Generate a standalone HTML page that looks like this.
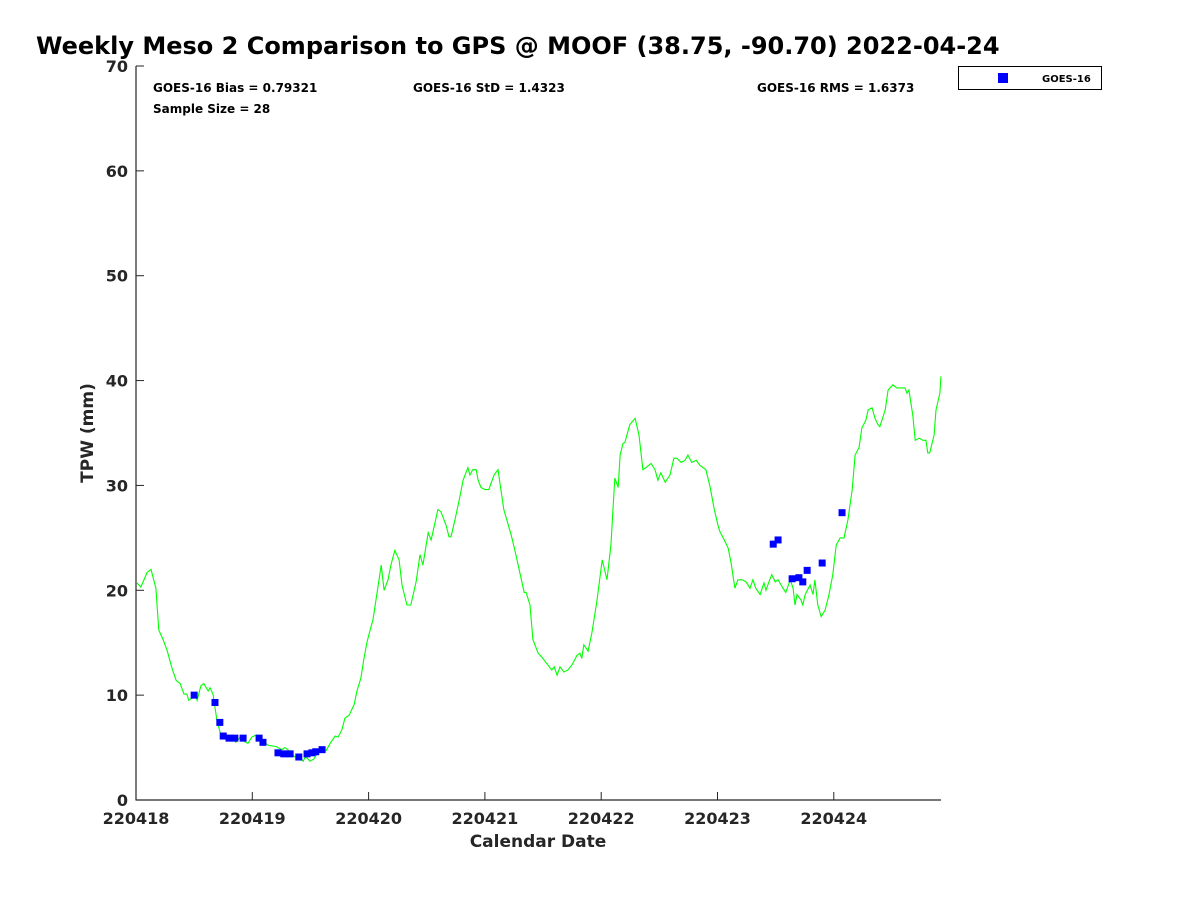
<!DOCTYPE html>
<html><head><meta charset="utf-8"><style>
body{margin:0;background:#fff;font-family:"DejaVu Sans","Liberation Sans",sans-serif}
</style></head><body>
<svg id="chart" width="1200" height="900" xmlns="http://www.w3.org/2000/svg">
<rect width="1200" height="900" fill="#fff"/>
<text x="36" y="54" font-size="24" font-weight="bold" fill="#000">Weekly Meso 2 Comparison to GPS @ MOOF (38.75, -90.70) 2022-04-24</text>
<g id="axes"></g>
<g id="series"></g>
<text x="153" y="92" font-size="12" font-weight="bold">GOES-16 Bias = 0.79321</text>
<text x="153" y="113" font-size="12" font-weight="bold">Sample Size = 28</text>
<text x="413" y="92" font-size="12" font-weight="bold">GOES-16 StD = 1.4323</text>
<text x="757" y="92" font-size="12" font-weight="bold">GOES-16 RMS = 1.6373</text>
<g>
<rect x="958.5" y="66.5" width="143" height="23" fill="#fff" stroke="#000" stroke-width="1"/>
<rect x="998" y="73" width="10" height="10" fill="#0000ff"/>
<text x="1042" y="82" font-size="10" font-weight="bold">GOES-16</text>
</g>
<text x="538" y="847" font-size="17" font-weight="bold" fill="#262626" text-anchor="middle">Calendar Date</text>
<text transform="translate(93,433) rotate(-90)" font-size="17" font-weight="bold" fill="#262626" text-anchor="middle">TPW (mm)</text>
</svg>
<script>
const xTickLabels=["220418","220419","220420","220421","220422","220423","220424"];
const yTicks=[0,10,20,30,40,50,60,70];
const gpsHours=[0.2,1.0,2.3,3.1,4.1,4.7,5.6,6.4,7.4,8.3,9.1,9.9,10.5,10.9,11.8,12.2,12.6,13.4,14.0,14.9,15.3,15.9,16.7,17.5,18.4,19.0,19.6,20.6,21.5,22.3,23.1,23.9,24.8,25.6,26.4,27.4,28.9,30.1,30.7,31.6,32.8,33.8,34.5,34.9,35.3,35.9,36.7,37.6,38.4,39.2,40.2,41.1,41.7,42.5,43.1,44.0,45.0,45.6,46.4,47.0,47.7,48.3,48.9,49.7,50.6,51.2,52.0,52.6,53.4,54.3,54.9,55.9,56.7,57.8,58.6,59.2,60.3,60.9,61.3,62.3,62.9,64.0,64.6,65.0,65.8,66.7,67.5,68.5,68.9,69.5,70.2,70.6,71.2,72.0,72.8,73.9,74.7,75.9,77.4,78.2,79.2,80.1,80.5,81.3,81.9,83.0,83.8,84.6,85.8,86.3,86.9,87.5,88.3,89.1,90.0,91.0,91.6,92.0,92.4,93.3,94.1,95.1,96.2,97.2,98.0,98.8,99.5,99.9,100.5,100.9,101.9,103.0,103.8,104.6,105.5,106.3,107.1,107.7,108.3,109.2,110.2,111.0,111.6,112.5,113.3,113.9,114.7,115.6,116.4,117.6,118.5,119.3,120.1,120.5,121.4,122.2,122.8,123.6,124.2,125.1,125.9,126.7,127.3,127.9,128.8,129.6,130.0,130.6,131.2,131.9,132.5,133.5,134.1,135.0,135.6,136.0,136.4,137.2,137.6,138.1,139.1,139.7,140.1,140.7,141.4,142.2,143.0,143.8,144.5,145.3,146.1,146.9,147.8,148.4,149.2,149.8,150.6,151.1,151.9,152.5,153.1,153.5,154.6,155.2,156.2,157.0,157.9,158.7,159.1,159.5,160.3,160.8,161.6,162.4,163.0,163.4,163.8,164.7,165.1,165.9,166.1];
const gpsValues=[20.7,20.3,21.7,22.0,20.2,16.2,15.3,14.3,12.6,11.4,11.1,10.1,10.1,9.5,9.8,10.1,9.5,10.9,11.1,10.4,10.7,10.1,7.6,6.2,6.0,6.2,6.0,5.5,6.0,5.6,5.4,6.0,6.2,5.6,5.5,5.2,5.1,4.8,5.0,4.7,4.1,4.0,3.7,4.1,4.0,3.7,3.9,4.6,5.0,4.7,5.5,6.1,6.0,6.7,7.8,8.1,9.1,10.4,11.6,13.4,15.1,16.2,17.2,19.6,22.4,20.0,21.0,22.4,23.8,22.9,20.5,18.6,18.6,20.8,23.4,22.4,25.5,24.8,25.6,27.7,27.5,26.2,25.1,25.1,26.7,28.6,30.5,31.7,31.0,31.5,31.5,30.5,29.8,29.6,29.6,31.0,31.5,27.7,25.3,23.8,21.7,19.8,19.8,18.6,15.3,14.0,13.6,13.1,12.4,12.7,11.9,12.7,12.2,12.4,12.9,13.8,14.0,13.5,14.8,14.2,16.0,18.9,22.9,21.0,24.3,30.7,29.8,32.9,34.0,34.1,35.8,36.4,34.8,31.5,31.8,32.1,31.5,30.5,31.2,30.3,31.0,32.6,32.6,32.2,32.4,32.9,32.2,32.4,31.9,31.5,29.8,27.8,26.2,25.6,24.8,24.0,22.6,20.2,21.0,21.0,20.8,20.2,21.0,20.2,19.6,20.7,20.0,20.8,21.5,20.8,21.0,20.2,19.8,21.0,20.2,18.6,19.6,19.1,18.6,19.6,20.5,19.6,21.0,18.6,17.5,18.1,19.6,21.5,24.3,25.0,25.0,26.7,29.6,32.9,33.6,35.5,36.2,37.2,37.4,36.4,35.8,35.6,37.2,39.1,39.6,39.3,39.3,39.3,38.8,39.1,36.7,34.3,34.5,34.3,34.3,33.1,33.1,34.8,37.2,38.8,40.4];
const goesHours=[12.0,16.3,17.3,18.0,19.2,20.4,22.1,25.4,26.2,29.3,30.5,31.8,33.6,35.3,36.3,37.1,38.4,131.5,132.5,135.4,136.8,137.6,138.5,141.6,145.7];
const goesValues=[10.0,9.3,7.4,6.1,5.9,5.9,5.9,5.9,5.5,4.5,4.4,4.4,4.1,4.4,4.5,4.6,4.8,24.4,24.8,21.1,21.2,20.8,21.9,22.6,27.4];

const NS="http://www.w3.org/2000/svg";
const L=136,R=941,T=66,B=800,YMAX=70,HMAX=166.1;
const pxPerDay=116.3;
function xs(h){return L+h/24*pxPerDay;}
function ys(v){return B-(v/YMAX)*(B-T);}
function mk(tag,attrs,parent){const e=document.createElementNS(NS,tag);for(const k in attrs)e.setAttribute(k,attrs[k]);parent.appendChild(e);return e;}
const axes=document.getElementById('axes'),series=document.getElementById('series');

let ax=mk('line',{x1:L,y1:T,x2:L,y2:B+0.5,stroke:'#262626','stroke-width':1.2},axes);


let bx=mk('line',{x1:L,y1:B,x2:R,y2:B,stroke:'#262626','stroke-width':1.2},axes);



yTicks.forEach(v=>{
  const y=ys(v);
  const tk=mk('line',{x1:L,y1:y,x2:L+8,y2:y,stroke:'#262626'},axes);
  
  
  const t=mk('text',{x:L-8,y:y+6,'font-size':16,'font-weight':'bold',fill:'#262626','text-anchor':'end'},axes);
  t.textContent=v;
  
  
});
xTickLabels.forEach((lab,i)=>{
  const x=xs(i*24);
  const tk=mk('line',{x1:x,y1:B,x2:x,y2:B-8,stroke:'#262626'},axes);
  
  
  const t=mk('text',{x:x,y:B+24,'font-size':16,'font-weight':'bold',fill:'#262626','text-anchor':'middle'},axes);
  t.textContent=lab;
  
  
});

const pts=gpsHours.map((h,i)=>xs(h).toFixed(1)+','+ys(gpsValues[i]).toFixed(1)).join(' ');
const line=mk('polyline',{points:pts,fill:'none',stroke:'#00ff00','stroke-width':1.1},series);



goesHours.forEach((h,i)=>{
  const r=mk('rect',{x:xs(h)-3.5,y:ys(goesValues[i])-3.5,width:7,height:7,fill:'#0000ff'},series);
  
  
});
</script>
</body></html>
